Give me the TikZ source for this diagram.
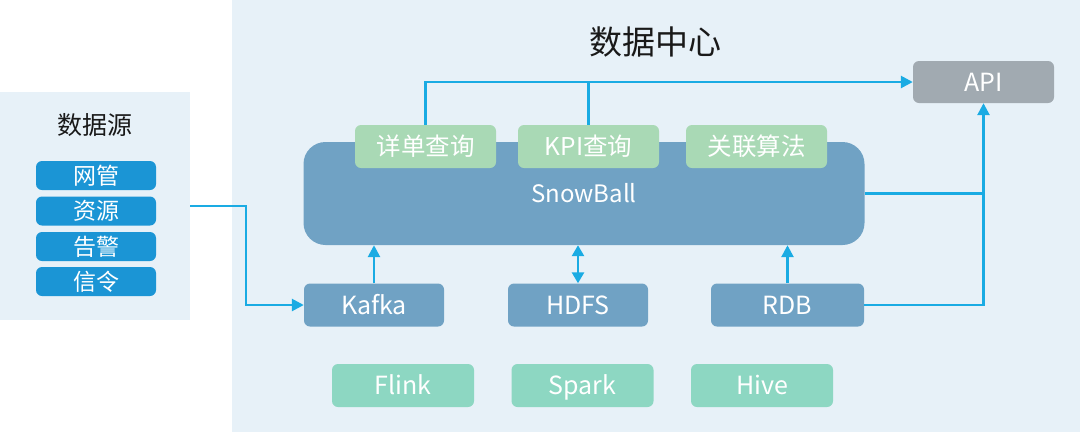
\documentclass[tikz,border=0pt]{standalone}
\usepackage{fontspec}
\setmainfont{Noto Sans CJK SC}
\usetikzlibrary{arrows.meta}
\definecolor{panelbg}{HTML}{E7F1F8}
\definecolor{srcblue}{HTML}{1B95D5}
\definecolor{snowblue}{HTML}{70A2C4}
\definecolor{tabgreen}{HTML}{A9D9B5}
\definecolor{mint}{HTML}{8DD7C2}
\definecolor{apigray}{HTML}{A1AAB1}
\definecolor{linkblue}{HTML}{1AABE3}
\tikzset{
  box/.style={rounded corners=6pt, inner sep=0pt, text=white, font=\fontsize{25}{27}\selectfont},
  latin/.style={text height=18pt, text depth=0pt},
  srcbox/.style={box, fill=srcblue, minimum width=120pt, minimum height=29pt, font=\fontsize{23}{25}\selectfont},
  tabbox/.style={box, fill=tabgreen, minimum width=141pt, minimum height=43pt, font=\fontsize{24.5}{26}\selectfont},
  storebox/.style={box, latin, fill=snowblue, minimum height=43pt},
  engbox/.style={box, latin, fill=mint, minimum width=142pt, minimum height=43pt},
  conn/.style={draw=linkblue, line width=2.6pt},
  arr/.style={conn, -{Triangle[length=12pt,width=12pt]}},
  arrtwo/.style={conn, {Triangle[length=11pt,width=12pt]}-{Triangle[length=11pt,width=12pt]}},
}
\begin{document}
\begin{tikzpicture}[x=1pt,y=-1pt]
\useasboundingbox (0,0) rectangle (1080,432);
\fill[panelbg] (232,0) rectangle (1080,432);
\node[fill=panelbg, minimum width=190pt, minimum height=228pt, inner sep=0pt] (srcpanel) at (95,206) {};
\node[font=\fontsize{33}{35}\selectfont, text=black!90] (title) at (655,42) {数据中心};
\node[font=\fontsize{25}{27}\selectfont, text=black!90] (srctitle) at (95,125) {数据源};
\node[srcbox] (s1) at (96,175.5) {网管};
\node[srcbox] (s2) at (96,211) {资源};
\node[srcbox] (s3) at (96,246.5) {告警};
\node[srcbox] (s4) at (96,281.5) {信令};
\node[box, fill=snowblue, rounded corners=22pt, minimum width=561pt, minimum height=103pt, font=\fontsize{24}{26}\selectfont] (snow) at (584,193.5) {SnowBall};
\node[tabbox] (t1) at (425.5,146.5) {详单查询};
\node[tabbox] (t2) at (588.5,146.5) {KPI查询};
\node[tabbox] (t3) at (756.5,146.5) {关联算法};
\node[box, latin, fill=apigray, minimum width=141pt, minimum height=42pt] (api) at (983.5,82) {API};
\node[storebox, minimum width=140pt] (kafka) at (374,305) {Kafka};
\node[storebox, minimum width=140pt] (hdfs) at (578,305) {HDFS};
\node[storebox, minimum width=153pt] (rdb) at (787.5,305) {RDB};
\node[engbox] (flink) at (403,385.5) {Flink};
\node[engbox] (spark) at (582.5,385.5) {Spark};
\node[engbox] (hive) at (762,385.5) {Hive};
\coordinate (bend) at (246,0);
\draw[arr] (srcpanel.east) -- (srcpanel.east -| bend) -- (bend |- kafka.west) -- (kafka.west);
\draw[arr] (t1.north) -- (t1.north |- api.west) -- (api.west);
\draw[conn] (t2.north) -- (t2.north |- api.west);
\draw[conn] (snow.east) -- (snow.east -| api.south);
\draw[arr] (rdb.east) -| (api.south);
\draw[arr] (kafka.north) -- (kafka.north |- snow.south);
\draw[arrtwo] (hdfs.north) -- (hdfs.north |- snow.south);
\draw[arr] (rdb.north) -- (rdb.north |- snow.south);
\end{tikzpicture}
\end{document}
